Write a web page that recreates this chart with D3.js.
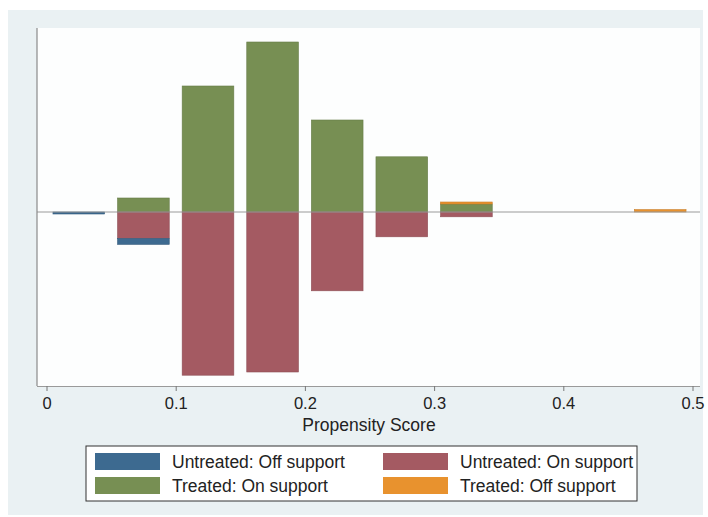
<!DOCTYPE html>
<html>
<head>
<meta charset="utf-8">
<script src="https://cdn.jsdelivr.net/npm/d3@7"></script>
<style>
  body { margin: 0; background: #fff; }
  svg text { font-family: "Liberation Sans", Arial, sans-serif; fill: #222; }
</style>
</head>
<body>
<svg width="708" height="517"></svg>
<script>
// bin centres of the propensity score histogram
const bins = [0.025, 0.075, 0.125, 0.175, 0.225, 0.275, 0.325, 0.475];
// densities, treated drawn upward, untreated downward
const treatedOn     = [0, 0.35, 3.15, 4.25, 2.3, 1.38, 0.2, 0];
const treatedOff    = [0, 0, 0, 0, 0, 0, 0.05, 0.06];
const untreatedOn   = [0, 0.66, 4.08, 4.0, 1.97, 0.62, 0.12, 0];
const untreatedOff  = [0.05, 0.15, 0, 0, 0, 0, 0, 0];
const xTicks = [0, 0.1, 0.2, 0.3, 0.4, 0.5];
const legendLabels = ['Untreated: Off support', 'Untreated: On support', 'Treated: On support', 'Treated: Off support'];
const binWidth = 0.04;

const colors = {
  untreatedOff: '#3d6a90',
  untreatedOn: '#a45a62',
  treatedOn: '#778f53',
  treatedOff: '#e8922e'
};

const svg = d3.select('svg');

// outer background and plot region
svg.append('rect').attr('x', 8).attr('y', 10).attr('width', 695).attr('height', 505)
  .attr('fill', '#eaf1f3');
svg.append('rect').attr('x', 37).attr('y', 28).attr('width', 663).attr('height', 358)
  .attr('fill', '#fdfefe');

const x = d3.scaleLinear().domain([0, 0.5]).range([46.5, 692.5]);
const y = d3.scaleLinear().domain([-4.35, 4.6]).range([386, 28]);

const bars = [];
bins.forEach((b, i) => {
  // treated stacked upward: on support first, then off support
  bars.push({ b, y0: 0, y1: treatedOn[i], c: colors.treatedOn });
  bars.push({ b, y0: treatedOn[i], y1: treatedOn[i] + treatedOff[i], c: colors.treatedOff });
  // untreated stacked downward
  bars.push({ b, y0: 0, y1: -untreatedOn[i], c: colors.untreatedOn });
  bars.push({ b, y0: -untreatedOn[i], y1: -untreatedOn[i] - untreatedOff[i], c: colors.untreatedOff });
});

const g = svg.append('g');
g.selectAll('rect.bar').data(bars.filter(d => d.y1 !== d.y0))
  .enter().append('rect')
    .attr('class', 'bar')
    .attr('x', d => x(d.b - binWidth / 2))
    .attr('width', d => x(d.b + binWidth / 2) - x(d.b - binWidth / 2))
    .attr('y', d => y(Math.max(d.y0, d.y1)))
    .attr('height', d => Math.max(1.5, Math.abs(y(d.y0) - y(d.y1))))
    .attr('fill', d => d.c)
    .attr('stroke', d => d3.color(d.c).darker(0.4))
    .attr('stroke-width', 0.6);

// zero line
svg.append('line')
  .attr('x1', 37).attr('x2', 700)
  .attr('y1', y(0)).attr('y2', y(0))
  .attr('stroke', '#9a9a9a').attr('stroke-width', 1);

// left axis line
svg.append('line')
  .attr('x1', 37).attr('x2', 37).attr('y1', 28).attr('y2', 386)
  .attr('stroke', '#8a8a8a').attr('stroke-width', 1.2);

// x axis
const xAxis = d3.axisBottom(x).tickValues(xTicks).tickFormat(d3.format('')).tickSize(5).tickPadding(6);
const xg = svg.append('g').attr('transform', 'translate(0,386)').call(xAxis);
xg.select('.domain').attr('d', 'M37,0.5H700').attr('stroke', '#9a9a9a');
xg.selectAll('.tick line').attr('stroke', '#777');
xg.selectAll('.tick text').attr('font-size', 16.5).attr('fill', '#222');

svg.append('text')
  .attr('x', 369).attr('y', 431)
  .attr('text-anchor', 'middle')
  .attr('font-size', 17.5)
  .text('Propensity Score');

// legend
const legend = svg.append('g');
legend.append('rect')
  .attr('x', 86).attr('y', 446).attr('width', 551).attr('height', 55)
  .attr('fill', '#fff').attr('stroke', '#333').attr('stroke-width', 1);

const legendColors = [colors.untreatedOff, colors.untreatedOn, colors.treatedOn, colors.treatedOff];
const items = legend.selectAll('g.item').data(legendLabels)
  .enter().append('g')
    .attr('class', 'item')
    .attr('transform', (d, i) => `translate(${i % 2 === 0 ? 95 : 383},${i < 2 ? 453 : 477})`);
items.append('rect')
  .attr('width', 65).attr('height', 17)
  .attr('fill', (d, i) => legendColors[i]);
items.append('text')
  .attr('x', 77).attr('y', 15)
  .attr('font-size', 17.5)
  .text(d => d);
</script>
</body>
</html>
